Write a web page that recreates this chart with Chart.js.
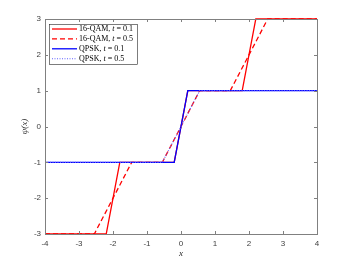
<!DOCTYPE html>
<html><head><meta charset="utf-8">
<script src="https://cdn.jsdelivr.net/npm/chart.js@4.4.1/dist/chart.umd.min.js"></script>
<style>html,body{margin:0;padding:0;background:#fff}#wrap{width:350px;height:263px}</style>
</head><body><div id="wrap"><canvas id="c" width="350" height="263"></canvas></div>
<script>
// Data
const xTicks = [-4,-3,-2,-1,0,1,2,3,4];
const yTicks = [-3,-2,-1,0,1,2,3];
const qam01X = [-4,-2.2,-1.8,-0.2,0.2,1.8,2.2,4];
const qam01Y = [-3,-3,-1,-1,1,1,3,3];
const qam05X = [-4,-2.55,-1.45,-0.55,0.55,1.45,2.55,4];
const qam05Y = [-3,-3,-1,-1,1,1,3,3];
const qpsk01X = [-4,-0.2,0.2,4];
const qpsk01Y = [-1,-1,1,1];
const qpsk05X = [-4,-0.55,0.55,4];
const qpsk05Y = [-1,-1,1,1];
const labels = ['16-QAM, ', '16-QAM, ', 'QPSK, ', 'QPSK, '];
const tVals = ['0.1','0.5','0.1','0.5'];

const pts = (xs, ys) => xs.map((x,i)=>({x:x, y:ys[i]}));

const AX = '#808080';
const serif = '"Liberation Serif", "DejaVu Serif", serif';
const sans = '"Liberation Sans", Arial, sans-serif';

const decor = {
  id: 'decor',
  afterDraw(chart){
    const ctx = chart.ctx, a = chart.chartArea;
    const xs = chart.scales.x, ys = chart.scales.y;
    ctx.save();
    // box
    ctx.strokeStyle = AX; ctx.lineWidth = 1;
    ctx.strokeRect(Math.round(a.left)+0.5, Math.round(a.top)+0.5, Math.round(a.right-a.left), Math.round(a.bottom-a.top));
    // inner ticks
    ctx.beginPath();
    xTicks.forEach(v=>{
      const p = Math.round(xs.getPixelForValue(v))+0.5;
      ctx.moveTo(p, a.bottom); ctx.lineTo(p, a.bottom-3);
      ctx.moveTo(p, a.top); ctx.lineTo(p, a.top+3);
    });
    yTicks.forEach(v=>{
      const p = Math.round(ys.getPixelForValue(v))+0.5;
      ctx.moveTo(a.left, p); ctx.lineTo(a.left+3, p);
      ctx.moveTo(a.right, p); ctx.lineTo(a.right-3, p);
    });
    ctx.stroke();
    // axis titles
    ctx.fillStyle = '#262626';
    ctx.font = 'italic 9px ' + serif;
    ctx.textAlign = 'center'; ctx.textBaseline = 'middle';
    ctx.fillText('x', (a.left+a.right)/2, 254);
    ctx.save();
    ctx.translate(25, (a.top+a.bottom)/2);
    ctx.rotate(-Math.PI/2);
    ctx.fillText('ψ(x)', 0, 0);
    ctx.restore();
    // legend
    const bx = 49, by = 24, bw = 88, bh = 40;
    ctx.fillStyle = '#fff';
    ctx.fillRect(bx, by, bw, bh);
    ctx.strokeStyle = '#262626'; ctx.lineWidth = 0.6;
    ctx.strokeRect(bx+0.5, by+0.5, bw, bh);
    const order = [0,1,2,3];
    order.forEach((di, i)=>{
      const ds = chart.data.datasets[di];
      const y = 29 + i*9.9;
      ctx.beginPath();
      ctx.strokeStyle = ds.borderColor; ctx.lineWidth = ds.borderWidth;
      ctx.setLineDash(ds.borderDash || []);
      ctx.moveTo(52, y); ctx.lineTo(77, y); ctx.stroke();
      ctx.setLineDash([]);
      ctx.fillStyle = '#000';
      ctx.textAlign = 'left'; ctx.textBaseline = 'middle';
      ctx.font = '8px ' + serif;
      let x = 79;
      ctx.fillText(labels[di], x, y); x += ctx.measureText(labels[di]).width;
      ctx.font = 'italic 8px ' + serif;
      ctx.fillText('t', x, y); x += ctx.measureText('t').width;
      ctx.font = '8px ' + serif;
      ctx.fillText(' = ' + tVals[di], x, y);
    });
    ctx.restore();
  }
};

new Chart(document.getElementById('c'), {
  type: 'scatter',
  data: { datasets: [
    {label:'16-QAM, t = 0.1', data: pts(qam01X, qam01Y), borderColor:'#ff0000', borderWidth:1.3, showLine:true, pointRadius:0, order:3, clip:4},
    {label:'16-QAM, t = 0.5', data: pts(qam05X, qam05Y), borderColor:'#ff0000', borderWidth:1.3, borderDash:[5,3], showLine:true, pointRadius:0, order:2, clip:4},
    {label:'QPSK, t = 0.1', data: pts(qpsk01X, qpsk01Y), borderColor:'#0000ff', borderWidth:1.3, showLine:true, pointRadius:0, order:1, clip:4},
    {label:'QPSK, t = 0.5', data: pts(qpsk05X, qpsk05Y), borderColor:'#6060ff', borderWidth:1.1, borderDash:[1,1.5], showLine:true, pointRadius:0, order:0, clip:4}
  ]},
  options: {
    responsive:false, animation:false, devicePixelRatio:1,
    layout:{padding:{left:0, top:19, right:33, bottom:0}},
    plugins:{legend:{display:false}, tooltip:{enabled:false}},
    scales:{
      x:{type:'linear', min:-4, max:4, border:{display:false},
         grid:{display:false, drawTicks:false},
         afterBuildTicks: s => { s.ticks = xTicks.map(v=>({value:v})); },
         afterFit: s => { s.height = 29; },
         ticks:{padding:5, color:'#404040', font:{family:sans, size:8}, maxRotation:0, callback: v => String(v)}},
      y:{type:'linear', min:-3, max:3, border:{display:false},
         grid:{display:false, drawTicks:false},
         afterBuildTicks: s => { s.ticks = yTicks.map(v=>({value:v})); },
         afterFit: s => { s.width = 45; },
         ticks:{padding:4, color:'#404040', font:{family:sans, size:8}, callback: v => String(v)}}
    }
  },
  plugins:[decor]
});
</script></body></html>
